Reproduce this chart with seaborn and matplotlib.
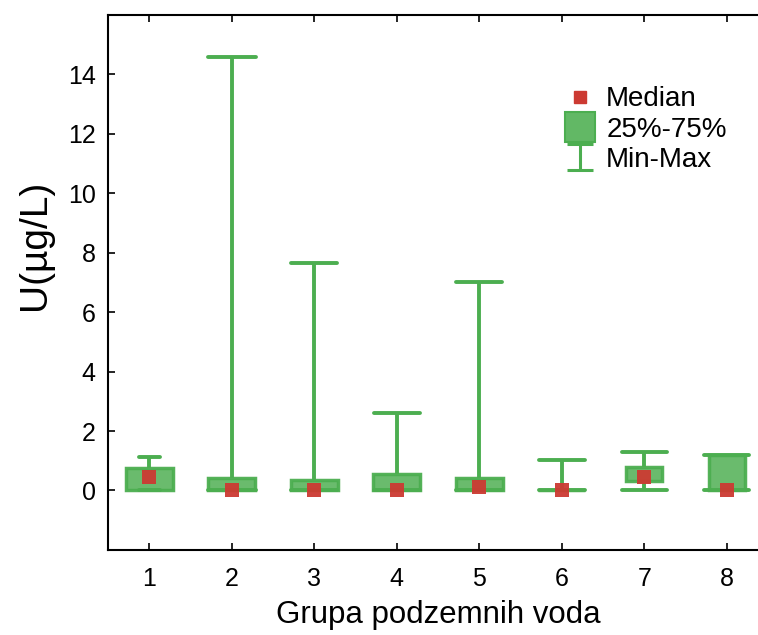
import matplotlib
matplotlib.use("Agg")
import matplotlib.pyplot as plt
from matplotlib.lines import Line2D
from matplotlib.path import Path
import seaborn as sns
import pandas as pd

# five-number summaries
groups = ["1", "2", "3", "4", "5", "6", "7", "8"]
mins = [0.02, 0.0, 0.0, 0.0, 0.0, 0.0, 0.0, 0.0]
q1 = [0.03, 0.0, 0.0, 0.0, 0.02, 0.0, 0.31, 0.0]
medians = [0.45, 0.0, 0.0, 0.02, 0.13, 0.0, 0.45, 0.03]
q3 = [0.75, 0.43, 0.34, 0.56, 0.43, 0.02, 0.78, 1.19]
maxs = [1.12, 14.57, 7.67, 2.59, 7.03, 1.03, 1.30, 1.19]

GREEN_FILL = "#62b865"
GREEN_EDGE = "#4cae50"
RED = "#cc3a32"


def build_frame():
    # with exactly five points, quartiles of the sample equal q1/median/q3
    rows = []
    for g, a, b, c, d, e in zip(groups, mins, q1, medians, q3, maxs):
        for v in (a, b, c, d, e):
            rows.append({"group": g, "U": v})
    return pd.DataFrame(rows)


sns.set_style("ticks")
plt.rcParams["font.family"] = ["Liberation Sans", "DejaVu Sans"]
for key in ("text.color", "axes.labelcolor", "xtick.color", "ytick.color"):
    plt.rcParams[key] = "black"

df = build_frame()
med_df = pd.DataFrame({"group": groups, "U": medians})

fig = plt.figure(figsize=(7.58, 6.35), dpi=100)
ax = fig.add_axes([0.1425, 0.134, 0.8707, 0.8425])

sns.boxplot(
    data=df, x="group", y="U", ax=ax,
    whis=(0, 100), width=0.57,
    color=GREEN_FILL, saturation=1,
    linecolor=GREEN_EDGE, linewidth=2.5,
    showfliers=False,
    boxprops={"facecolor": GREEN_FILL, "edgecolor": GREEN_EDGE, "alpha": 0.95},
    medianprops={"visible": False},
    whiskerprops={"color": GREEN_EDGE, "linewidth": 2.8},
    capprops={"color": GREEN_EDGE, "linewidth": 2.8},
    widths=[0.57, 0.57, 0.57, 0.57, 0.57, 0.57, 0.44, 0.44],
    capwidths=[0.25, 0.58, 0.56, 0.56, 0.56, 0.56, 0.55, 0.55],
)

sns.stripplot(
    data=med_df, x="group", y="U", ax=ax,
    jitter=False, marker="s", size=10, color=RED,
    linewidth=0, alpha=0.95, zorder=5,
)

ax.set_xlim(-0.5, 7.5)
ax.set_ylim(-2, 16)
ax.set_yticks([0, 2, 4, 6, 8, 10, 12, 14])
ax.set_xlabel("Grupa podzemnih voda", fontsize=22.5, labelpad=7)
ax.set_ylabel("U(\u00b5g/L)", fontsize=28)
ax.yaxis.set_label_coords(-0.083, 0.57)
ax.tick_params(direction="in", length=5, width=1.2, labelsize=18,
               top=True, right=True)
ax.tick_params(axis="x", pad=12)
ax.tick_params(axis="y", pad=9)
for s in ax.spines.values():
    s.set_linewidth(1.5)
    s.set_color("black")

# legend with STATISTICA-like symbols
ibeam = Path(
    [(-1, 1), (1, 1), (0, 1), (0, -1), (-1, -1), (1, -1)],
    [Path.MOVETO, Path.LINETO, Path.MOVETO, Path.LINETO, Path.MOVETO, Path.LINETO],
)
handles = [
    Line2D([], [], linestyle="none", marker="s", markersize=8,
           markerfacecolor=RED, markeredgecolor=RED),
    Line2D([], [], linestyle="none", marker="s", markersize=21,
           markerfacecolor=GREEN_FILL, markeredgecolor=GREEN_EDGE, markeredgewidth=1.5),
    Line2D([], [], linestyle="none", marker=ibeam, markersize=19,
           markerfacecolor="none", markeredgecolor=GREEN_EDGE, markeredgewidth=2.2),
]
fig.legend(
    handles, ["Median", "25%-75%", "Min-Max"],
    loc="upper left", bbox_to_anchor=(0.743, 0.864),
    frameon=False, fontsize=20, handlelength=1.2, handletextpad=0.35,
    labelspacing=0.15, borderpad=0, borderaxespad=0,
)

plt.savefig("out.png", dpi=100)
